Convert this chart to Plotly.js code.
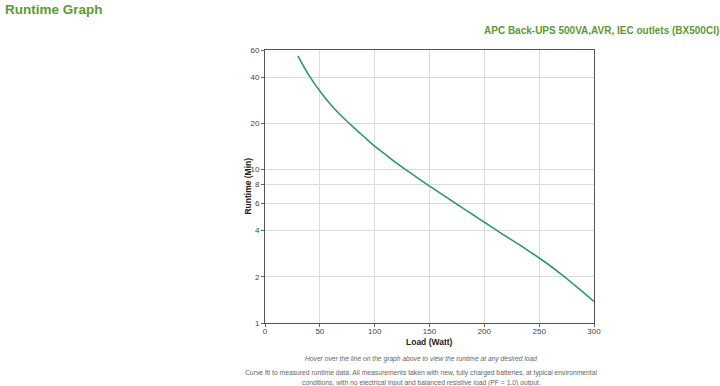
<!DOCTYPE html>
<html>
<head>
<meta charset="utf-8">
<script src="https://cdn.plot.ly/plotly-3.0.1.min.js"></script>
<style>html,body{margin:0;padding:0;background:#fff;}#chart{width:720px;height:386px;}</style>
</head>
<body>
<div id="chart"></div>
<script>
// Data
const loadWatt = [30, 40, 50, 60, 70, 80, 90, 100, 110, 120, 130, 140, 150, 160, 170, 180, 190, 200, 210, 220, 230, 240, 250, 260, 270, 280, 290, 300];
const runtimeMin = [55.0, 41.2, 32.4, 26.4, 22.2, 19.0, 16.4, 14.2, 12.5, 11.0, 9.8, 8.73, 7.8, 6.98, 6.27, 5.62, 5.05, 4.53, 4.07, 3.66, 3.3, 2.96, 2.65, 2.36, 2.08, 1.82, 1.59, 1.38];
const xTicks = [0, 50, 100, 150, 200, 250, 300];
const yTicks = [1, 2, 4, 6, 8, 10, 20, 40, 60];

const pageTitle = 'Runtime Graph';
const modelTitle = 'APC Back-UPS 500VA,AVR, IEC outlets (BX500CI)';
const xTitle = 'Load (Watt)';
const yTitle = 'Runtime (Min)';
const note1 = 'Hover over the line on the graph above to view the runtime at any desired load';
const note2 = 'Curve fit to measured runtime data. All measurements taken with new, fully charged batteries, at typical environmental';
const note3 = 'conditions, with no electrical input and balanced resistive load (PF = 1.0) output.';

const green = '#5b9a32';
const font = 'Liberation Sans, Arial, sans-serif';

const trace = {
  x: loadWatt, y: runtimeMin, type: 'scatter', mode: 'lines',
  line: {color: '#2c9a6c', width: 1.6, shape: 'spline', smoothing: 1},
  hoverinfo: 'x+y'
};

const layout = {
  width: 720, height: 386,
  margin: {l: 265, r: 126, t: 50, b: 63},
  paper_bgcolor: '#fff', plot_bgcolor: '#fff',
  showlegend: false,
  font: {family: font, size: 8, color: '#444'},
  xaxis: {
    range: [-0.001, 300], tickvals: xTicks, ticktext: xTicks.map(String),
    showgrid: true, gridcolor: '#dcdcdc', gridwidth: 1,
    showline: true, linecolor: '#555', linewidth: 1, mirror: true,
    ticks: 'outside', ticklen: 3, tickcolor: '#666', ticklabelstandoff: -3,
    tickfont: {family: font, size: 8, color: '#444'}, zeroline: false, fixedrange: true
  },
  yaxis: {
    type: 'log', range: [0, Math.log10(60)], tickvals: yTicks, ticktext: yTicks.map(String),
    showgrid: true, gridcolor: '#dcdcdc', gridwidth: 1,
    showline: true, linecolor: '#555', linewidth: 1, mirror: true,
    ticks: 'outside', ticklen: 3, tickcolor: '#666',
    tickfont: {family: font, size: 8, color: '#444'}, zeroline: false, fixedrange: true
  },
  annotations: [
    {text: '<b>' + pageTitle + '</b>', xref: 'paper', yref: 'paper', x: -0.797, y: 1.150,
     xanchor: 'left', yanchor: 'middle', showarrow: false, font: {family: font, size: 13.5, color: green}},
    {text: '<b>' + modelTitle + '</b>', xref: 'paper', yref: 'paper', x: 1.385, y: 1.0696,
     xanchor: 'right', yanchor: 'middle', showarrow: false, font: {family: font, size: 10, color: green}},
    {text: '<b>' + yTitle + '</b>', xref: 'paper', yref: 'paper', x: -0.0545, y: 0.5,
     xanchor: 'center', yanchor: 'middle', textangle: -90, showarrow: false, font: {family: font, size: 8.5, color: '#222'}},
    {text: '<b>' + xTitle + '</b>', xref: 'paper', yref: 'paper', x: 0.5, y: -0.0696,
     xanchor: 'center', yanchor: 'middle', showarrow: false, font: {family: font, size: 8.5, color: '#222'}},
    {text: '<i>' + note1 + '</i>', xref: 'paper', yref: 'paper', x: 0.473, y: -0.132,
     xanchor: 'center', yanchor: 'middle', showarrow: false, font: {family: font, size: 6.7, color: '#666'}},
    {text: note2, xref: 'paper', yref: 'paper', x: 0.475, y: -0.1843,
     xanchor: 'center', yanchor: 'middle', showarrow: false, font: {family: font, size: 6.75, color: '#666'}},
    {text: note3, xref: 'paper', yref: 'paper', x: 0.475, y: -0.2187,
     xanchor: 'center', yanchor: 'middle', showarrow: false, font: {family: font, size: 6.75, color: '#666'}}
  ]
};

Plotly.newPlot('chart', [trace], layout, {displayModeBar: false});
</script>
</body>
</html>
